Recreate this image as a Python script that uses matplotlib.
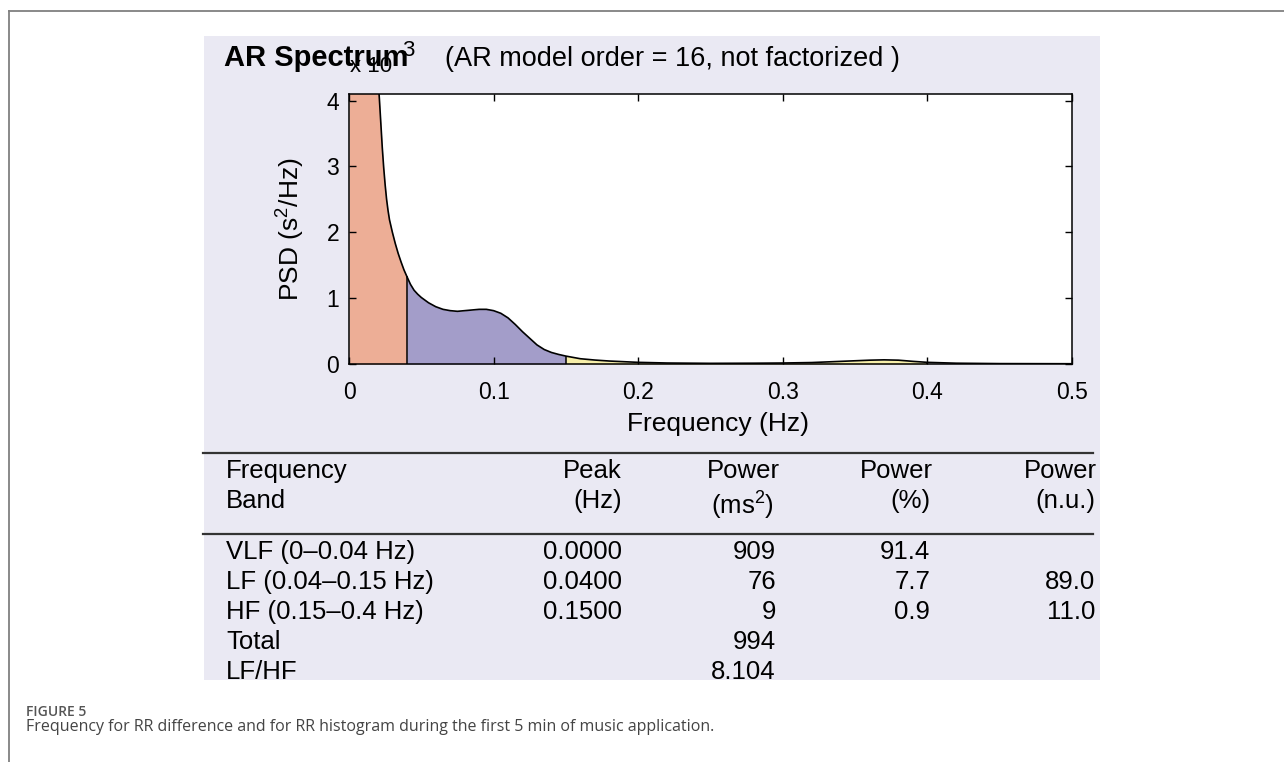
import numpy as np
import matplotlib.pyplot as plt
from matplotlib.patches import Rectangle
from matplotlib.lines import Line2D

plt.rcParams['font.family'] = ['Liberation Sans', 'DejaVu Sans']
plt.rcParams['mathtext.default'] = 'regular'

W, H = 1284, 762

# AR spectrum, PSD in units of 10^3 s^2/Hz
freq = [0.0, 0.005, 0.01, 0.015, 0.02, 0.021, 0.022, 0.023, 0.024, 0.025, 0.026, 0.027,
        0.028, 0.03, 0.032, 0.034, 0.036, 0.038,
        0.04, 0.0425, 0.045, 0.0475, 0.05, 0.055, 0.06, 0.065, 0.07, 0.075, 0.08, 0.085,
        0.09, 0.095, 0.10, 0.105, 0.11, 0.115, 0.12, 0.125, 0.13, 0.135, 0.14, 0.145,
        0.15, 0.16, 0.17, 0.18, 0.19, 0.20, 0.22, 0.25, 0.28, 0.30, 0.32, 0.34, 0.36,
        0.37, 0.38, 0.39, 0.40, 0.42, 0.45, 0.50]
psd = [11.0, 9.5, 8.0, 6.0, 4.35, 4.03, 3.66, 3.29, 2.98, 2.72, 2.5, 2.33,
       2.19, 2.0, 1.83, 1.68, 1.55, 1.43,
       1.33, 1.21, 1.12, 1.06, 1.01, 0.93, 0.87, 0.83, 0.81, 0.80, 0.81, 0.82,
       0.83, 0.83, 0.81, 0.77, 0.70, 0.60, 0.49, 0.39, 0.29, 0.22, 0.175, 0.145,
       0.12, 0.08, 0.06, 0.045, 0.035, 0.025, 0.015, 0.01, 0.012, 0.015, 0.022, 0.04, 0.058,
       0.063, 0.058, 0.04, 0.025, 0.012, 0.006, 0.004]
band_edges = [0.0, 0.04, 0.15, 0.4]
band_colors = ['#EDAE96', '#A39DC9', '#F7EFA8']

xtick_vals = [0, 0.1, 0.2, 0.3, 0.4, 0.5]
xtick_labels = ['0', '0.1', '0.2', '0.3', '0.4', '0.5']
ytick_vals = [0, 1, 2, 3, 4]

# results table
band_names = ['VLF (0\u20130.04 Hz)', 'LF (0.04\u20130.15 Hz)', 'HF (0.15\u20130.4 Hz)', 'Total', 'LF/HF']
peak_hz = ['0.0000', '0.0400', '0.1500', '', '']
power_ms2 = ['909', '76', '9', '994', '8.104']
power_pct = ['91.4', '7.7', '0.9', '', '']
power_nu = ['', '89.0', '11.0', '', '']


def px(x, y):
    # pixel position -> figure fraction
    return x / W, 1 - y / H


fig = plt.figure(figsize=(W / 100, H / 100), dpi=100)

# outer frame and grey panel
fig.add_artist(Line2D([9 / W, 1], [1 - 11 / H, 1 - 11 / H], color='#808080', lw=1.3))
fig.add_artist(Line2D([9 / W, 9 / W], [0, 1 - 11 / H], color='#808080', lw=1.3))
fig.add_artist(Rectangle(px(204, 680), 896 / W, 644 / H, transform=fig.transFigure,
                         facecolor='#EAE9F3', edgecolor='none', zorder=0))

ax = fig.add_axes([349 / W, 1 - 364 / H, 723 / W, 270 / H])
f = np.array(freq)
p = np.array(psd)

for lo, hi, c in zip(band_edges[:-1], band_edges[1:], band_colors):
    m = (f >= lo) & (f <= hi)
    ax.fill_between(f[m], p[m], color=c, lw=0)
for e in band_edges[1:]:
    i = freq.index(e)
    ax.vlines(e, 0, psd[i], color='k', lw=1.1)
ax.plot(f, p, color='k', lw=1.2)

ax.set_xlim(0, 0.5)
ax.set_ylim(0, 4.1)
ax.set_xticks(xtick_vals)
ax.set_xticklabels(xtick_labels)
ax.set_yticks(ytick_vals)
ax.tick_params(direction='in', length=5, width=1, top=True, right=True, labelsize=16.5, colors='k')
ax.tick_params(axis='x', pad=12)
ax.tick_params(axis='y', pad=7)
for s in ax.spines.values():
    s.set_linewidth(1.1)
ax.set_xlabel('Frequency (Hz)', fontsize=19, va='center')
ax.xaxis.set_label_coords(0.51, -0.222)
ax.set_ylabel('PSD (s$^2$/Hz)', fontsize=19, va='center')
ax.yaxis.set_label_coords(-0.081, 0.5)

# title and exponent label (they overlap in the original too)
fig.text(*px(224, 66), 'AR Spectrum', fontsize=21, fontweight='bold', va='baseline')
fig.text(*px(445, 66), '(AR model order = 16, not factorized )', fontsize=19.5, va='baseline')
fig.text(*px(350, 67), 'x 10', fontsize=16, va='center')
fig.text(*px(402, 51), '3', fontsize=16, va='center')

# table
ts = 18.5
for yy in [452.5, 534]:
    fig.add_artist(Line2D([203 / W, 1093 / W], [1 - yy / H, 1 - yy / H], color='#333333', lw=1.6))

fig.text(*px(226, 478), 'Frequency', fontsize=ts, va='baseline')
fig.text(*px(226, 508), 'Band', fontsize=ts, va='baseline')
fig.text(*px(622, 478), 'Peak', fontsize=ts, va='baseline', ha='right')
fig.text(*px(622, 508), '(Hz)', fontsize=ts, va='baseline', ha='right')
fig.text(*px(780, 478), 'Power', fontsize=ts, va='baseline', ha='right')
fig.text(*px(742, 515), '(ms$^2$)', fontsize=ts, va='baseline', ha='center')
fig.text(*px(933, 478), 'Power', fontsize=ts, va='baseline', ha='right')
fig.text(*px(930, 508), '(%)', fontsize=ts, va='baseline', ha='right')
fig.text(*px(1097, 478), 'Power', fontsize=ts, va='baseline', ha='right')
fig.text(*px(1095, 508), '(n.u.)', fontsize=ts, va='baseline', ha='right')

for r in range(len(band_names)):
    yb = 559 + 30 * r
    fig.text(*px(226, yb), band_names[r], fontsize=ts, va='baseline')
    fig.text(*px(622, yb), peak_hz[r], fontsize=ts, va='baseline', ha='right')
    fig.text(*px(776, yb), power_ms2[r], fontsize=ts, va='baseline', ha='right')
    fig.text(*px(930, yb), power_pct[r], fontsize=ts, va='baseline', ha='right')
    fig.text(*px(1095, yb), power_nu[r], fontsize=ts, va='baseline', ha='right')

# caption
fig.text(*px(26, 716), 'FIGURE 5', fontsize=10, fontweight='semibold', color='#555555',
         va='baseline', family=['Open Sans', 'DejaVu Sans'])
fig.text(*px(26, 731), 'Frequency for RR difference and for RR histogram during the first 5 min of music application.',
         fontsize=11.5, color='#444444', va='baseline', family=['Open Sans', 'DejaVu Sans'])

fig.savefig('out.png', dpi=100)
